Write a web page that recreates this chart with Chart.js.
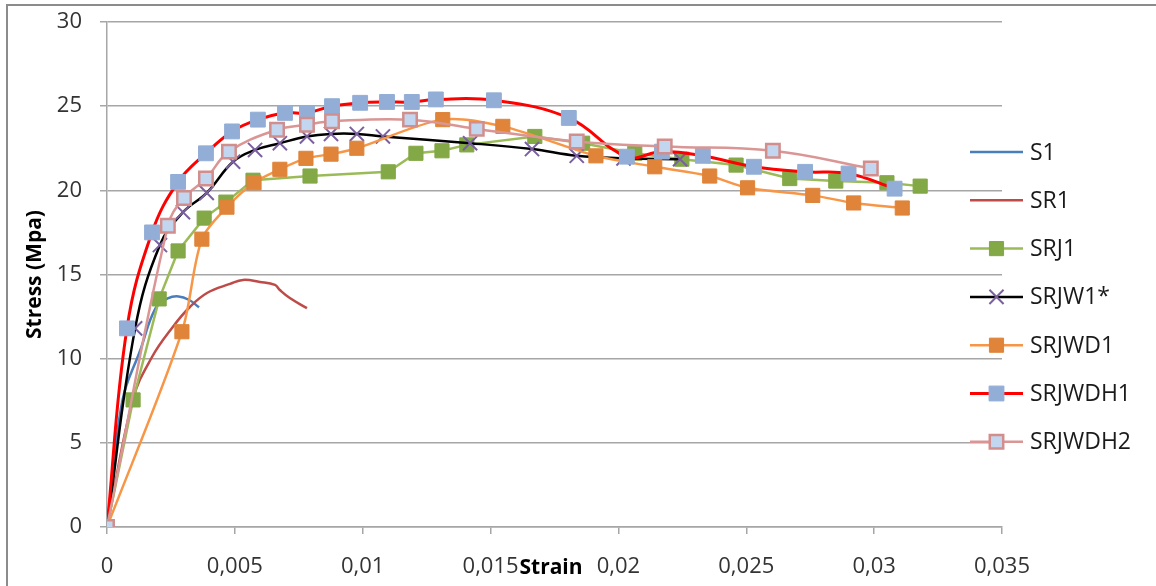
<!DOCTYPE html>
<html><head><meta charset="utf-8">
<script src="https://cdn.jsdelivr.net/npm/chart.js@4.4.1/dist/chart.umd.min.js"></script>
<style>html,body{margin:0;padding:0;background:#fff;}#wrap{width:1156px;height:586px;position:relative;}</style>
</head><body><div id="wrap"><canvas id="c" width="1156" height="586"></canvas></div>
<script>
// ---- data ----
const xTickValues = [0, 0.005, 0.01, 0.015, 0.02, 0.025, 0.03, 0.035];
const xTickLabels = ['0', '0,005', '0,01', '0,015', '0,02', '0,025', '0,03', '0,035'];
const yTickValues = [0, 5, 10, 15, 20, 25, 30];
const yTickLabels = ['0', '5', '10', '15', '20', '25', '30'];
const xTitle = 'Strain';
const yTitle = 'Stress (Mpa)';

const s1X = [0, 0.0006, 0.0013, 0.0019, 0.0024, 0.0028, 0.0032, 0.0036];
const s1Y = [0, 7.5, 10.5, 13.0, 13.6, 13.7, 13.5, 13.05];

const sr1X = [0, 0.00102, 0.00176, 0.00258, 0.00324, 0.00391, 0.00481, 0.00532, 0.00598, 0.00657, 0.00676, 0.00715, 0.00782];
const sr1Y = [0, 7.6, 10.1, 11.9, 13.07, 13.9, 14.44, 14.68, 14.56, 14.38, 14.08, 13.6, 13.0];

const srj1X = [0, 0.00102, 0.00204, 0.00278, 0.0038, 0.00465, 0.00571, 0.00794, 0.011, 0.01208, 0.0131, 0.01407, 0.01673, 0.0186, 0.02064, 0.02248, 0.0246, 0.0267, 0.0285, 0.0305, 0.0318];
const srj1Y = [0, 7.55, 13.55, 16.4, 18.35, 19.3, 20.6, 20.85, 21.1, 22.2, 22.35, 22.7, 23.2, 22.8, 22.2, 21.85, 21.5, 20.7, 20.55, 20.45, 20.25];

const srjw1X = [0, 0.0011, 0.00207, 0.00297, 0.0039, 0.00493, 0.00579, 0.00676, 0.00782, 0.00876, 0.00977, 0.01079, 0.0142, 0.01662, 0.01837, 0.0202, 0.02241];
const srjw1Y = [0, 11.8, 16.75, 18.7, 19.85, 21.7, 22.4, 22.8, 23.2, 23.35, 23.35, 23.2, 22.8, 22.45, 22.05, 21.9, 21.85];

const srjwd1X = [0, 0.00293, 0.00371, 0.00469, 0.00575, 0.00676, 0.00778, 0.00876, 0.00977, 0.01313, 0.01548, 0.01912, 0.02142, 0.02357, 0.02505, 0.0276, 0.0292, 0.0311];
const srjwd1Y = [0, 11.6, 17.1, 19.0, 20.45, 21.25, 21.9, 22.15, 22.5, 24.2, 23.8, 22.05, 21.4, 20.85, 20.15, 19.7, 19.25, 18.95];

const srjwdh1X = [0, 0.00078, 0.00176, 0.00278, 0.00387, 0.00489, 0.0059, 0.00696, 0.00782, 0.0088, 0.0099, 0.01095, 0.01192, 0.01286, 0.01513, 0.01806, 0.02033, 0.0217, 0.0233, 0.0253, 0.0273, 0.029, 0.0308];
const srjwdh1Y = [0, 11.8, 17.5, 20.5, 22.2, 23.5, 24.2, 24.6, 24.6, 25.0, 25.2, 25.25, 25.25, 25.4, 25.35, 24.3, 22.0, 22.3, 22.05, 21.4, 21.1, 21.0, 20.1];

const srjwdh2X = [0, 0.00238, 0.00301, 0.00387, 0.00477, 0.00665, 0.00782, 0.0088, 0.01185, 0.01446, 0.01837, 0.02181, 0.02604, 0.02987];
const srjwdh2Y = [0, 17.9, 19.55, 20.7, 22.3, 23.6, 23.9, 24.1, 24.2, 23.65, 22.9, 22.6, 22.35, 21.3];

const seriesNames = ['S1', 'SR1', 'SRJ1', 'SRJW1*', 'SRJWD1', 'SRJWDH1', 'SRJWDH2'];
const seriesX = [s1X, sr1X, srj1X, srjw1X, srjwd1X, srjwdh1X, srjwdh2X];
const seriesY = [s1Y, sr1Y, srj1Y, srjw1Y, srjwd1Y, srjwdh1Y, srjwdh2Y];

// ---- styles ----
const styles = [
  {line: '#4a7ebb', width: 2.5, tension: 0.4, style: false},
  {line: '#be4b48', width: 2.5, tension: 0.4, style: false},
  {line: '#9bbb59', width: 2.5, tension: 0, style: 'rect', r: 10, bg: '#83a846', bc: '#83a846', bw: 1},
  {line: '#000000', width: 2.5, tension: 0.4, style: 'crossRot', r: 10, bg: 'rgba(0,0,0,0)', bc: '#7a60a0', bw: 2},
  {line: '#f79646', width: 2.5, tension: 0.3, style: 'rect', r: 10, bg: '#df8439', bc: '#df8439', bw: 1},
  {line: '#ff0000', width: 3, tension: 0.4, style: 'rect', r: 10.5, bg: '#93aed6', bc: '#93aed6', bw: 1},
  {line: '#d99694', width: 2.5, tension: 0.4, style: 'rect', r: 9.5, bg: '#c3d6ef', bc: '#d18e8c', bw: 2.5}
];

const datasets = seriesNames.map((name, i) => {
  const st = styles[i];
  return {
    label: name,
    data: seriesX[i].map((x, k) => ({x: x, y: seriesY[i][k]})),
    borderColor: st.line,
    borderWidth: st.width,
    tension: st.tension,
    fill: false,
    pointStyle: st.style || 'circle',
    pointRadius: st.style ? st.r : 0,
    pointHoverRadius: st.style ? st.r : 0,
    pointBackgroundColor: st.bg,
    pointBorderColor: st.bc,
    pointBorderWidth: st.bw || 0,
    order: seriesNames.length - i
  };
});

const FONT = "'Open Sans', 'DejaVu Sans', sans-serif";

const extras = {
  id: 'extras',
  afterDraw(chart) {
    const ctx = chart.ctx;
    ctx.save();
    // frame
    ctx.strokeStyle = '#8c8c8c';
    ctx.lineWidth = 2;
    ctx.beginPath();
    ctx.moveTo(7, 586);
    ctx.lineTo(7, 5);
    ctx.lineTo(1156, 5);
    ctx.stroke();
    // axis titles
    ctx.fillStyle = '#000';
    ctx.font = "bold 21px " + FONT;
    ctx.textAlign = 'center';
    ctx.textBaseline = 'middle';
    ctx.fillText(xTitle, 551, 568);
    ctx.save();
    ctx.translate(35, (chart.chartArea.top + chart.chartArea.bottom) / 2);
    ctx.rotate(-Math.PI / 2);
    ctx.fillText(yTitle, 0, 0);
    ctx.restore();
    // legend
    const lx0 = 970, lx1 = 1023, tx = 1030;
    seriesNames.forEach((name, i) => {
      const y = 152 + i * 48.3;
      const st = styles[i];
      ctx.strokeStyle = st.line;
      ctx.lineWidth = st.width;
      ctx.beginPath();
      ctx.moveTo(lx0, y);
      ctx.lineTo(lx1, y);
      ctx.stroke();
      if (st.style) {
        ctx.fillStyle = st.bg;
        ctx.strokeStyle = st.bc;
        ctx.lineWidth = st.bw;
        Chart.helpers.drawPoint(ctx, {pointStyle: st.style, radius: st.r, borderWidth: st.bw, rotation: 0}, (lx0 + lx1) / 2, y);
      }
      ctx.fillStyle = '#1a1a1a';
      ctx.font = "23px " + FONT;
      ctx.textAlign = 'left';
      ctx.textBaseline = 'middle';
      ctx.fillText(name, tx, y + 1);
    });
    ctx.restore();
  }
};

new Chart(document.getElementById('c'), {
  type: 'line',
  data: {datasets: datasets},
  options: {
    responsive: false,
    animation: false,
    devicePixelRatio: 1,
    layout: {autoPadding: false, padding: {left: 0, right: 154, top: 22, bottom: 0}},
    plugins: {legend: {display: false}, tooltip: {enabled: false}},
    scales: {
      x: {
        type: 'linear', min: 0, max: 0.035,
        afterBuildTicks: s => { s.ticks = xTickValues.map(v => ({value: v})); },
        afterFit: s => { s.height = 59; s.paddingLeft = 5; s.paddingRight = 5; },
        ticks: {
          callback: (v, idx) => xTickLabels[idx],
          font: {family: FONT, size: 22}, color: '#333', padding: 20, maxRotation: 0, autoSkip: false
        },
        grid: {drawOnChartArea: false, drawTicks: true, tickLength: 7, color: '#a6a6a6', lineWidth: 1.5},
        border: {display: true, color: '#a6a6a6', width: 1.5}
      },
      y: {
        type: 'linear', min: 0, max: 30,
        afterBuildTicks: s => { s.ticks = yTickValues.map(v => ({value: v})); },
        afterFit: s => { s.width = 107; s.paddingTop = 10; s.paddingBottom = 10; },
        ticks: {
          callback: (v, idx) => yTickLabels[idx],
          font: {family: FONT, size: 22}, color: '#333', padding: 18, autoSkip: false
        },
        grid: {drawOnChartArea: true, drawTicks: true, tickLength: 7, color: '#a6a6a6', lineWidth: 1.5},
        border: {display: true, color: '#a6a6a6', width: 1.5}
      }
    }
  },
  plugins: [extras]
});
</script></body></html>
